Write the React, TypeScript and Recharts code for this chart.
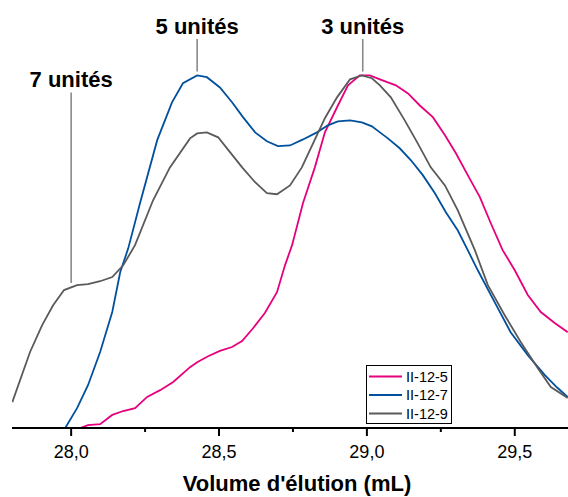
import { LineChart, Line, XAxis, YAxis, ReferenceLine, Legend } from "recharts";

const CHART_W = 568;
const CHART_H = 497;
const AXIS_H = 69;
const PLOT_BOTTOM = CHART_H - AXIS_H;

const FONT = 'Arial, "Liberation Sans", sans-serif';

// elution volume (mL) / normalised intensity
const volume5 = [28.03, 28.057, 28.098, 28.139, 28.176, 28.216, 28.257, 28.301, 28.345, 28.402, 28.426, 28.463, 28.503, 28.544, 28.578, 28.615, 28.655, 28.696, 28.723, 28.747, 28.784, 28.824, 28.858, 28.899, 28.936, 28.976, 29.01, 29.044, 29.098, 29.139, 29.179, 29.223, 29.264, 29.301, 29.341, 29.382, 29.419, 29.459, 29.5, 29.544, 29.588, 29.635, 29.679];
const signal5 = [0, 0.008, 0.011, 0.037, 0.048, 0.056, 0.088, 0.107, 0.13, 0.172, 0.186, 0.203, 0.218, 0.229, 0.246, 0.282, 0.325, 0.384, 0.46, 0.517, 0.636, 0.737, 0.836, 0.907, 0.969, 0.997, 0.997, 0.986, 0.969, 0.946, 0.912, 0.879, 0.828, 0.777, 0.715, 0.653, 0.579, 0.503, 0.446, 0.376, 0.328, 0.297, 0.271];

const volume7 = [27.98, 28.02, 28.057, 28.098, 28.139, 28.166, 28.193, 28.233, 28.291, 28.341, 28.378, 28.426, 28.459, 28.503, 28.544, 28.581, 28.622, 28.662, 28.699, 28.74, 28.784, 28.831, 28.868, 28.902, 28.943, 28.983, 29.017, 29.044, 29.071, 29.111, 29.149, 29.189, 29.23, 29.267, 29.307, 29.341, 29.375, 29.432, 29.486, 29.544, 29.601, 29.645, 29.679];
const signal7 = [0, 0.056, 0.121, 0.215, 0.328, 0.441, 0.508, 0.636, 0.814, 0.921, 0.975, 0.997, 0.992, 0.963, 0.921, 0.879, 0.836, 0.811, 0.797, 0.799, 0.816, 0.836, 0.856, 0.867, 0.87, 0.864, 0.853, 0.836, 0.819, 0.791, 0.757, 0.715, 0.664, 0.61, 0.559, 0.503, 0.446, 0.356, 0.271, 0.206, 0.15, 0.113, 0.088];

const volume9 = [27.801, 27.861, 27.902, 27.939, 27.976, 28.02, 28.057, 28.098, 28.139, 28.176, 28.216, 28.277, 28.334, 28.402, 28.426, 28.459, 28.497, 28.537, 28.581, 28.622, 28.662, 28.696, 28.74, 28.78, 28.818, 28.858, 28.899, 28.943, 28.983, 29.017, 29.044, 29.081, 29.128, 29.172, 29.216, 29.264, 29.307, 29.365, 29.409, 29.466, 29.52, 29.578, 29.622, 29.679];
const signal9 = [0.073, 0.215, 0.291, 0.347, 0.39, 0.404, 0.407, 0.415, 0.427, 0.46, 0.517, 0.644, 0.737, 0.819, 0.833, 0.836, 0.822, 0.78, 0.734, 0.695, 0.664, 0.661, 0.686, 0.737, 0.805, 0.876, 0.935, 0.986, 0.997, 0.989, 0.969, 0.935, 0.87, 0.805, 0.737, 0.686, 0.616, 0.503, 0.404, 0.319, 0.243, 0.169, 0.116, 0.085];

const seriesNames = ["II-12-5", "II-12-7", "II-12-9"];
const seriesColors = ["#e6007e", "#00509e", "#5a5a5a"];

const xTicks = [28, 28.25, 28.5, 28.75, 29, 29.25, 29.5];
const majorTicks = [28, 28.5, 29, 29.5];

// annotations: label, volume, line bottom, line top
const annotLabels = ["7 unités", "5 unités", "3 unités"];
const annotVolume = [28.0, 28.426, 28.986];
const annotFrom = [0.41, 1.008, 1.008];
const annotTo = [0.949, 1.1, 1.1];

const toPoints = (xs: number[], ys: number[]) =>
  xs.map((x, i) => ({ x, y: ys[i] }));

const series = [
  toPoints(volume5, signal5),
  toPoints(volume7, signal7),
  toPoints(volume9, signal9),
];

const VolumeTick = ({ x, payload }: any) => {
  const major = majorTicks.includes(payload.value);
  return (
    <g>
      <line
        x1={x}
        x2={x}
        y1={PLOT_BOTTOM}
        y2={PLOT_BOTTOM + (major ? 8 : 4)}
        stroke="#000"
        strokeWidth={2}
      />
      {major && (
        <text
          x={x}
          y={PLOT_BOTTOM + 17}
          dy="0.71em"
          textAnchor="middle"
          fontSize={18}
          fill="#000"
        >
          {payload.value.toFixed(1).replace(".", ",")}
        </text>
      )}
    </g>
  );
};

const SeriesLegend = () => (
  <svg width={86} height={59} style={{ display: "block" }}>
    <rect x={0.5} y={0.5} width={85} height={58} fill="#fff" stroke="#000" />
    {seriesNames.map((name, i) => {
      const cy = 11.5 + i * 18.5;
      return (
        <g key={name}>
          <line x1={3} x2={36} y1={cy} y2={cy} stroke={seriesColors[i]} strokeWidth={2} />
          <text x={40} y={cy} dy="0.36em" fontSize={14.5} fill="#000" fontFamily={FONT}>
            {name}
          </text>
        </g>
      );
    })}
  </svg>
);

export default function App() {
  return (
    <div style={{ position: "absolute", left: 0, top: 0, fontFamily: FONT, background: "#fff" }}>
      <LineChart
        width={CHART_W}
        height={CHART_H}
        margin={{ top: 39, right: 0, bottom: 0, left: 12 }}
      >
        <XAxis
          type="number"
          dataKey="x"
          domain={[27.8, 29.68]}
          allowDataOverflow
          ticks={xTicks}
          interval={0}
          height={AXIS_H}
          tickLine={false}
          tick={<VolumeTick />}
          axisLine={{ stroke: "#000", strokeWidth: 2 }}
          label={{
            value: "Volume d'élution (mL)",
            position: "insideBottom",
            offset: 6,
            dx: 7,
            fontSize: 22,
            fontWeight: "bold",
            fill: "#000",
          }}
        />
        <YAxis hide type="number" domain={[0, 1.1]} allowDataOverflow />
        {series.map((pts, i) => (
          <Line
            key={seriesNames[i]}
            data={pts}
            dataKey="y"
            name={seriesNames[i]}
            type="linear"
            stroke={seriesColors[i]}
            strokeWidth={1.8}
            dot={false}
            activeDot={false}
            isAnimationActive={false}
          />
        ))}
        {annotLabels.map((label, i) => (
          <ReferenceLine
            key={label}
            segment={[
              { x: annotVolume[i], y: annotFrom[i] },
              { x: annotVolume[i], y: annotTo[i] },
            ]}
            stroke="#8a8a8a"
            strokeWidth={1.6}
            ifOverflow="visible"
            label={{
              value: label,
              position: "top",
              offset: 5,
              fontSize: 22,
              fontWeight: "bold",
              fill: "#000",
            }}
          />
        ))}
        <Legend
          layout="horizontal"
          verticalAlign="middle"
          align="center"
          content={<SeriesLegend />}
          wrapperStyle={{ left: 366, top: 365, width: 86, height: 59 }}
        />
      </LineChart>
    </div>
  );
}
